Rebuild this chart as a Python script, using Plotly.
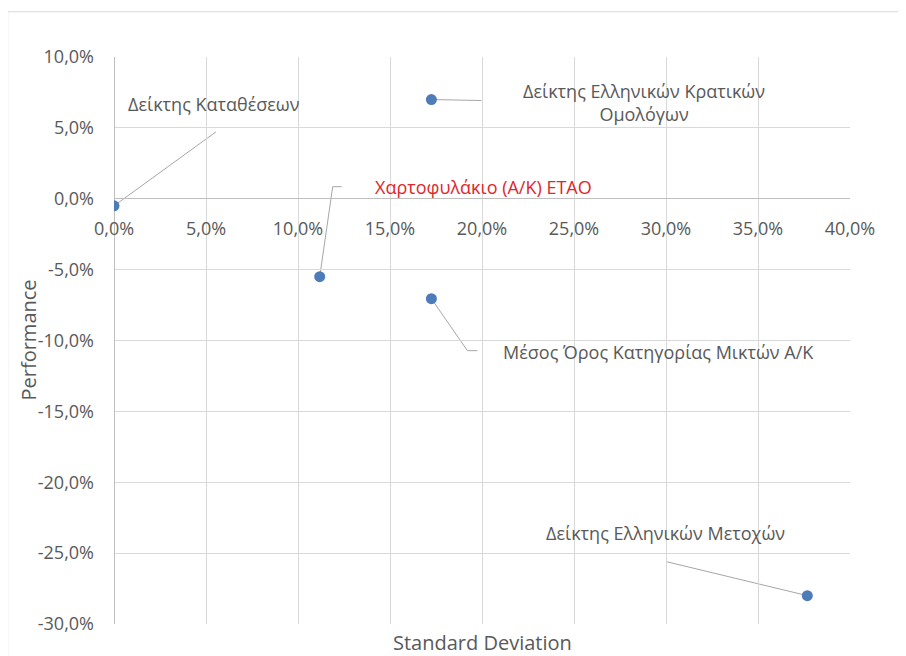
import plotly.graph_objects as go

names = ["Δείκτης Καταθέσεων", "Δείκτης Ελληνικών Κρατικών<br>Ομολόγων",
         "Χαρτοφυλάκιο (Α/Κ) ΕΤΑΟ", "Μέσος Όρος Κατηγορίας Μικτών Α/Κ",
         "Δείκτης Ελληνικών Μετοχών"]
std_dev = [0.000, 0.1725, 0.1118, 0.1725, 0.3768]
performance = [-0.005, 0.070, -0.055, -0.0705, -0.280]
label_colors = ["#595959", "#595959", "#e0262c", "#595959", "#595959"]
x_tick_vals = [0.0, 0.05, 0.10, 0.15, 0.20, 0.25, 0.30, 0.35, 0.40]
x_tick_text = ["0,0%", "5,0%", "10,0%", "15,0%", "20,0%", "25,0%", "30,0%", "35,0%", "40,0%"]
y_tick_vals = [0.10, 0.05, 0.0, -0.05, -0.10, -0.15, -0.20, -0.25, -0.30]
y_tick_text = ["10,0%", "5,0%", "0,0%", "-5,0%", "-10,0%", "-15,0%", "-20,0%", "-25,0%", "-30,0%"]
# label offsets (pixels) relative to point
label_shift = [(100, 102), (213, -3), (164, 90), (227, -53), (-142, 63)]
# leader line paths (pixel offsets relative to point, y up)
leaders = [
    [(0, 0), (102, 74)],
    [(0, 0), (50, -1)],
    [(0, 0), (13, 90), (22, 90)],
    [(0, 0), (36, -52), (46, -52)],
    [(0, 0), (-141, 34)],
]

FONT = "Open Sans"
GRAY = "#595959"

fig = go.Figure()
fig.add_trace(go.Scatter(
    x=std_dev, y=performance, mode="markers",
    marker=dict(color="#4e7cb8", size=11),
    hoverinfo="x+y", showlegend=False))

for i in range(len(names)):
    fig.add_annotation(x=std_dev[i], y=performance[i], text=names[i],
                       showarrow=False, xshift=label_shift[i][0],
                       yshift=label_shift[i][1],
                       xanchor="center", yanchor="middle",
                       font=dict(family=FONT, size=18, color=label_colors[i]),
                       align="center")
    pts = leaders[i]
    path = "M " + " L ".join(f"{p[0]},{p[1]}" for p in pts)
    fig.add_shape(type="path", path=path, xref="x", yref="y",
                  xsizemode="pixel", ysizemode="pixel",
                  xanchor=std_dev[i], yanchor=performance[i],
                  line=dict(color="#a6a6a6", width=1), layer="below")

# outer chart border
fig.add_shape(type="rect", xref="paper", yref="paper",
              x0=-0.1444, x1=1.09, y0=-0.07, y1=1.0798,
              line=dict(color="#d9d9d9", width=1), layer="below")

fig.update_layout(
    width=906, height=656,
    margin=dict(l=106, r=64, t=49, b=40),
    paper_bgcolor="white", plot_bgcolor="white",
    font=dict(family=FONT, color=GRAY, size=18),
    xaxis=dict(range=[0, 0.40], tickvals=x_tick_vals, ticktext=x_tick_text,
               showgrid=True, gridcolor="#d9d9d9", gridwidth=1,
               zeroline=True, zerolinecolor="#bfbfbf", zerolinewidth=1,
               showline=False, anchor="free", position=0.75,
               tickfont=dict(size=18, color=GRAY), ticklabelstandoff=17,
               ticks="", fixedrange=True),
    yaxis=dict(range=[-0.30, 0.10], tickvals=y_tick_vals, ticktext=y_tick_text,
               showgrid=True, gridcolor="#d9d9d9", gridwidth=1,
               zeroline=True, zerolinecolor="#bfbfbf", zerolinewidth=1,
               showline=False, ticks="", ticklabelstandoff=19,
               tickfont=dict(size=18, color=GRAY), fixedrange=True),
)

fig.add_annotation(text="Standard Deviation", xref="paper", yref="paper",
                   x=0.5, y=0, yshift=-18, showarrow=False,
                   xanchor="center", yanchor="middle",
                   font=dict(family=FONT, size=20, color=GRAY))
fig.add_annotation(text="Performance", xref="paper", yref="paper",
                   x=0, y=0.5, xshift=-86, showarrow=False, textangle=-90,
                   xanchor="center", yanchor="middle",
                   font=dict(family=FONT, size=20, color=GRAY))

fig.write_html("out.html")
